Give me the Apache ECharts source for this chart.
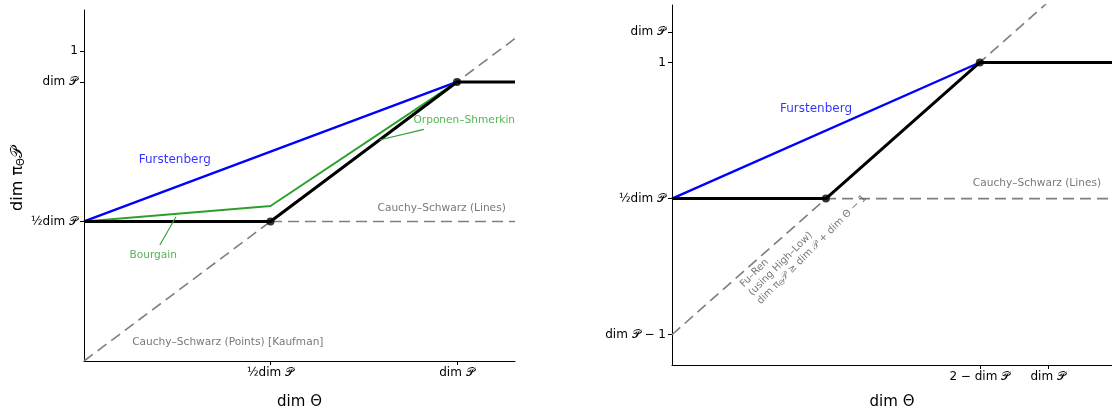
<!DOCTYPE html>
<html>
<head>
<meta charset="utf-8">
<script src="https://cdn.jsdelivr.net/npm/echarts@6/dist/echarts.min.js"></script>
<style>
html,body{margin:0;padding:0;background:#fff;}
#c{width:1112px;height:415px;}
</style>
</head>
<body>
<div id="c"></div>
<script>
// ---- data (dim P = 0.9 on the left panel, 1.1 on the right panel) ----
const leftXTicks = [0.45, 0.9];
const leftXLabels = ['½dim 𝒫', 'dim 𝒫'];
const leftYTicks = [0.45, 0.9, 1];
const leftYLabels = ['½dim 𝒫', 'dim 𝒫', '1'];
const rightXTicks = [0.9, 1.1];
const rightXLabels = ['2 − dim 𝒫', 'dim 𝒫'];
const rightYTicks = [0.1, 0.55, 1, 1.1];
const rightYLabels = ['dim 𝒫 − 1', '½dim 𝒫', '1', 'dim 𝒫'];

const leftDiag = [[0, 0], [1.04, 1.04]];
const leftHalf = [[0, 0.45], [1.04, 0.45]];
const leftFurstenberg = [[0, 0.45], [0.9, 0.9]];
const leftGreen = [[0, 0.45], [0.45, 0.5], [0.9, 0.9]];
const leftBlack = [[0, 0.45], [0.45, 0.45], [0.9, 0.9], [1.04, 0.9]];
const leftDots = [[0.45, 0.45], [0.9, 0.9]];
const bourgainArrow = [[0.183, 0.374], [0.222, 0.465]];
const orponenArrow = [[0.82, 0.747], [0.713, 0.713]];

const rightDiag = [[0, 0.1], [1.29, 1.39]];
const rightHalf = [[0, 0.55], [1.29, 0.55]];
const rightFurstenberg = [[0, 0.55], [0.9, 1]];
const rightBlack = [[0, 0.55], [0.45, 0.55], [0.9, 1], [1.29, 1]];
const rightDots = [[0.45, 0.55], [0.9, 1]];

const leftBlueText = [{ value: [0.219, 0.648], name: 'Furstenberg' }];
const leftGrayText = [
  { value: [0.863, 0.494], name: 'Cauchy–Schwarz (Lines)' },
  { value: [0.347, 0.061], name: 'Cauchy–Schwarz (Points) [Kaufman]' }
];
const leftGreenText = [{ value: [0.167, 0.342], name: 'Bourgain' }];
const orponenText = [{ value: [0.795, 0.777], name: 'Orponen–Shmerkin' }];
const rightBlueText = [{ value: [0.421, 0.848], name: 'Furstenberg' }];
const rightGrayText = [{ value: [1.067, 0.601], name: 'Cauchy–Schwarz (Lines)' }];
const fuRenText = [{ value: [0.229, 0.234],
  name: '{t|Fu–Ren}\n{t|(using High–Low)}\n{t|dim π}{s|Θ}{t|𝒫 ≥ dim 𝒫 + dim Θ − 1}' }];

// ---- chart ----
const FONT = 'DejaVu Sans';
const GRAY = '#7f7f7f';
const TXTGRAY = '#555555';
const SMALL = 10.6;

function labelFor(ticks, labels) {
  return function (v) {
    for (let i = 0; i < ticks.length; i++) if (Math.abs(ticks[i] - v) < 1e-6) return labels[i];
    return '';
  };
}
function makeAxis(idx, type, min, max, ticks, labels, name, extra) {
  return Object.assign({
    type: 'value', gridIndex: idx, min: min, max: max,
    splitLine: { show: false },
    axisLine: { show: true, onZero: false, lineStyle: { color: '#000', width: 1 } },
    axisTick: { show: true, customValues: ticks, length: 4, lineStyle: { color: '#000', width: 1 } },
    axisLabel: { customValues: ticks, formatter: labelFor(ticks, labels), color: '#000',
      fontFamily: FONT, fontSize: 12, margin: 6 },
    name: name, nameLocation: 'middle',
    nameTextStyle: { fontFamily: FONT, fontSize: 15, color: '#000' }
  }, extra || {});
}
function lineSeries(xi, data, color, width, dashed, z) {
  return { type: 'line', xAxisIndex: xi, yAxisIndex: xi, data: data, symbol: 'none',
    silent: true, animation: false, z: z, clip: true,
    lineStyle: { color: color, width: width, type: dashed ? [11, 6] : 'solid' } };
}
function textSeries(xi, data, color, size, extraLabel) {
  return { type: 'scatter', xAxisIndex: xi, yAxisIndex: xi, data: data, symbolSize: 0,
    silent: true, animation: false, z: 20,
    label: Object.assign({ show: true, position: 'inside', formatter: '{b}', color: color,
      fontFamily: FONT, fontSize: size, align: 'center', verticalAlign: 'middle' }, extraLabel || {}) };
}
function dotSeries(xi, data) {
  return { type: 'scatter', xAxisIndex: xi, yAxisIndex: xi, data: data, symbolSize: 8,
    itemStyle: { color: '#000' }, silent: true, animation: false, z: 15 };
}

const chart = echarts.init(document.getElementById('c'), null, { renderer: 'canvas' });
chart.setOption({
  animation: false,
  backgroundColor: '#fff',
  grid: [
    { left: 84, top: 10, width: 431, height: 351 },
    { left: 672, top: 5, width: 440, height: 360 }
  ],
  xAxis: [
    makeAxis(0, 'x', 0, 1.04, leftXTicks, leftXLabels, 'dim Θ', { nameGap: 34 }),
    makeAxis(1, 'x', 0, 1.2865, rightXTicks, rightXLabels, 'dim Θ', { nameGap: 30 })
  ],
  yAxis: [
    makeAxis(0, 'y', 0, 1.132, leftYTicks, leftYLabels, '{a|dim π}{s|Θ}{a|𝒫}', {
      nameGap: 58,
      nameTextStyle: { fontFamily: FONT, color: '#000', padding: [0, 0, 0, 14],
        rich: { a: { fontFamily: FONT, fontSize: 16, color: '#000' },
                s: { fontFamily: FONT, fontSize: 10, color: '#000', verticalAlign: 'bottom', padding: [6, 0, 0, 0] } } }
    }),
    makeAxis(1, 'y', 0, 1.19, rightYTicks, rightYLabels, '', {})
  ],
  series: [
    lineSeries(0, leftDiag, GRAY, 1.6, true, 1),
    lineSeries(0, leftHalf, GRAY, 1.6, true, 1),
    lineSeries(0, leftFurstenberg, '#0000ff', 2.4, false, 3),
    lineSeries(0, leftGreen, '#2ca02c', 2, false, 4),
    lineSeries(0, leftBlack, '#000', 3, false, 5),
    lineSeries(0, bourgainArrow, '#2ca02c', 1.1, false, 6),
    lineSeries(0, orponenArrow, '#2ca02c', 1.1, false, 6),
    dotSeries(0, leftDots),
    textSeries(0, leftBlueText, '#0000ff', 12),
    textSeries(0, leftGrayText, TXTGRAY, SMALL),
    textSeries(0, leftGreenText, '#2ca02c', SMALL),
    textSeries(0, orponenText, '#2ca02c', SMALL, { align: 'left' }),

    lineSeries(1, rightDiag, GRAY, 1.6, true, 1),
    lineSeries(1, rightHalf, GRAY, 1.6, true, 1),
    lineSeries(1, rightFurstenberg, '#0000ff', 2.4, false, 3),
    lineSeries(1, rightBlack, '#000', 3, false, 5),
    dotSeries(1, rightDots),
    textSeries(1, rightBlueText, '#0000ff', 12),
    textSeries(1, rightGrayText, TXTGRAY, SMALL),
    textSeries(1, fuRenText, TXTGRAY, 10, {
      align: 'left', rotate: 45, lineHeight: 12,
      rich: { t: { fontFamily: FONT, fontSize: 10, color: TXTGRAY, lineHeight: 12 },
              s: { fontFamily: FONT, fontSize: 7, color: TXTGRAY, verticalAlign: 'bottom', lineHeight: 12 } }
    })
  ]
});
</script>
</body>
</html>
